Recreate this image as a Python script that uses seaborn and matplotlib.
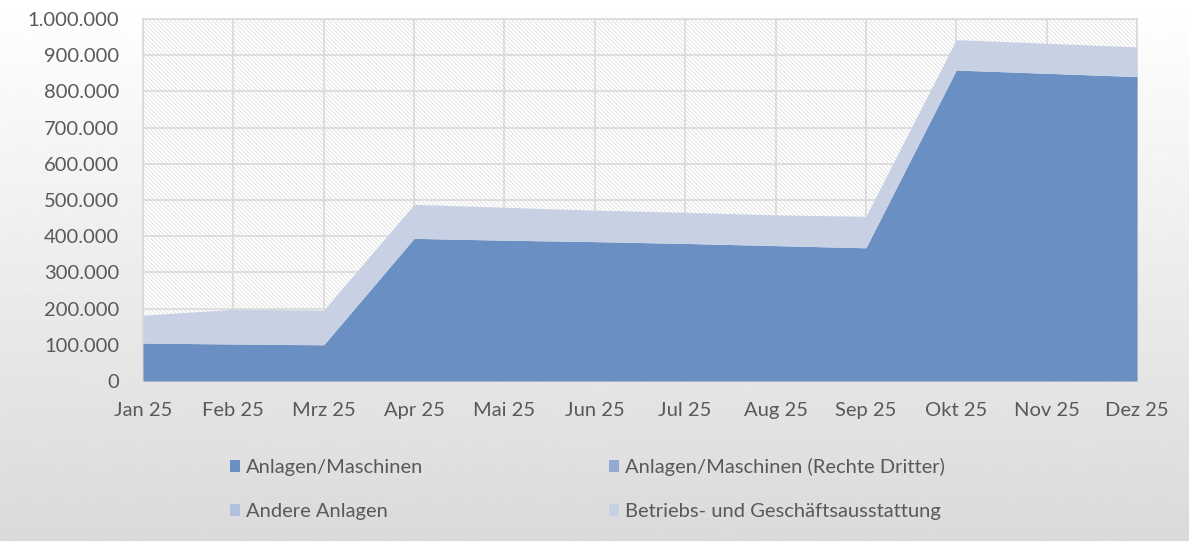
import numpy as np
import pandas as pd
import seaborn as sns
import matplotlib.pyplot as plt
from matplotlib.patches import Patch, Rectangle
from matplotlib.ticker import FuncFormatter, MultipleLocator

months = ['Jan 25', 'Feb 25', 'Mrz 25', 'Apr 25', 'Mai 25', 'Jun 25',
          'Jul 25', 'Aug 25', 'Sep 25', 'Okt 25', 'Nov 25', 'Dez 25']
series_names = ['Anlagen/Maschinen', 'Anlagen/Maschinen (Rechte Dritter)',
                'Andere Anlagen', 'Betriebs- und Geschäftsausstattung']

anlagen = [105000, 102000, 100000, 394000, 389000, 385000,
           380000, 374000, 368000, 859000, 850000, 841000]
rechte_dritter = [0, 0, 0, 0, 0, 0, 0, 0, 0, 0, 0, 0]
andere = [0, 0, 0, 0, 0, 0, 0, 0, 0, 0, 0, 0]
bga = [77000, 96000, 96000, 94000, 91000, 87000,
       86000, 85000, 87000, 84000, 83000, 82000]

colors = ['#6a8fc3', '#93a9d3', '#b0c0de', '#c8d1e4']
text_col = '#595959'
grid_col = '#d9d9d9'

sns.set_theme(style='white')
plt.rcParams['font.family'] = ['Lato', 'DejaVu Sans']
plt.rcParams['hatch.linewidth'] = 0.6

df = pd.DataFrame({'month': months, series_names[0]: anlagen,
                   series_names[1]: rechte_dritter, series_names[2]: andere,
                   series_names[3]: bga})

fig = plt.figure(figsize=(11.89, 5.41), dpi=100)

# background gradient (white top -> light gray bottom)
bg = fig.add_axes([0, 0, 1, 1], zorder=-10)
grad = np.linspace(1.0, 0.855, 256).reshape(-1, 1)
bg.imshow(grad, aspect='auto', cmap='gray', vmin=0, vmax=1, extent=[0, 1, 0, 1])
bg.axis('off')

W, H = 1189, 541
ax = fig.add_axes([143 / W, (H - 381) / H, (1137 - 143) / W, (381 - 19) / H])
ax.set_facecolor('none')

# hatched plot area
ax.add_patch(Rectangle((0, 0), 1, 1, transform=ax.transAxes, facecolor='white',
                       edgecolor='#dedede', hatch='\\' * 8, linewidth=0, zorder=0))

x = np.arange(len(months))
ax.stackplot(x, [df[s] for s in series_names], colors=colors, zorder=3, linewidth=0)

ax.set_xlim(0, len(months) - 1)
ax.set_ylim(0, 1000000)
ax.yaxis.set_major_locator(MultipleLocator(100000))
ax.yaxis.set_major_formatter(FuncFormatter(lambda v, p: f'{int(v):,}'.replace(',', '.')))
ax.set_xticks(x)
ax.set_xticklabels(months)
ax.grid(True, color=grid_col, linewidth=1.2, zorder=1)
ax.set_axisbelow(True)
for sp in ax.spines.values():
    sp.set_color(grid_col)
    sp.set_linewidth(1.2)
ax.tick_params(axis='both', length=0, labelsize=14.5, labelcolor=text_col)
ax.tick_params(axis='y', pad=17)
ax.tick_params(axis='x', pad=15)

# legend is filled column-wise, so reorder to read row-wise like the original
order = [0, 2, 1, 3]
handles = [Patch(facecolor=colors[i], edgecolor='none') for i in order]
labels = [series_names[i] for i in order]
fig.legend(handles, labels, ncol=2, loc='center left',
           bbox_to_anchor=(212 / W, 1 - 489 / H), frameon=False,
           fontsize=14.5, labelcolor=text_col, handlelength=0.5, handleheight=0.5,
           handletextpad=0.3, columnspacing=9.2, labelspacing=1.35)

fig.savefig('out.png', dpi=100)
